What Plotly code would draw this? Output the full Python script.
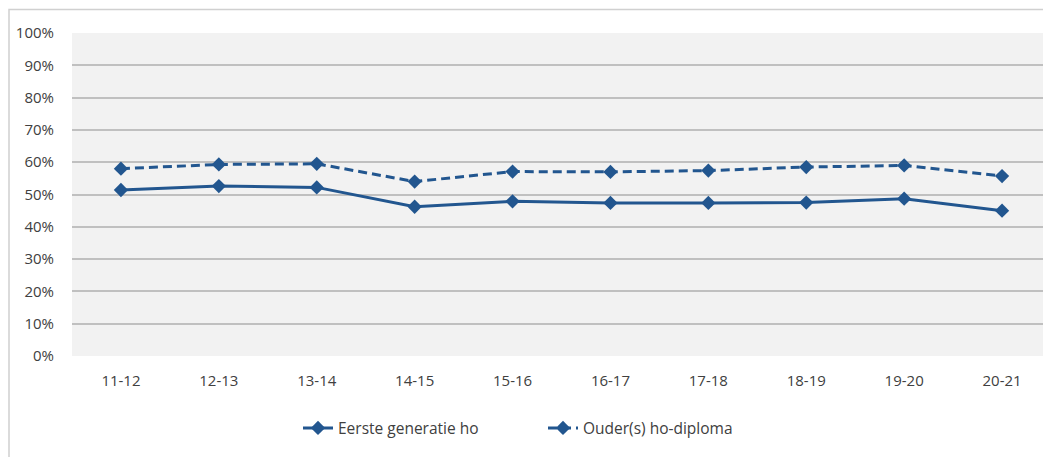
import plotly.graph_objects as go

categories = ["11-12", "12-13", "13-14", "14-15", "15-16", "16-17", "17-18", "18-19", "19-20", "20-21"]
eerste_generatie = [0.514, 0.526, 0.522, 0.462, 0.479, 0.474, 0.474, 0.475, 0.487, 0.450]
ouders_ho = [0.580, 0.593, 0.595, 0.540, 0.571, 0.570, 0.574, 0.585, 0.590, 0.557]
series_names = ["Eerste generatie ho", "Ouder(s) ho-diploma"]
y_ticks = [i / 10 for i in range(11)]

COLOR = "#22568f"
OFF = 8  # page body margin
W, H = 1051 - OFF, 457 - OFF
L, R, T = 72 - OFF, 0, 33 - OFF
BOTTOM = 356.5 - OFF
B = H - BOTTOM
pw = W - L - R
ph = H - T - B

fig = go.Figure()
fig.add_trace(go.Scatter(
    x=categories, y=eerste_generatie, name=series_names[0], mode="lines+markers",
    line=dict(color=COLOR, width=3),
    marker=dict(symbol="diamond", size=11, color=COLOR),
))
fig.add_trace(go.Scatter(
    x=categories, y=ouders_ho, name=series_names[1], mode="lines+markers",
    line=dict(color=COLOR, width=3, dash="9px,5px"),
    marker=dict(symbol="diamond", size=11, color=COLOR),
))

font_family = "Open Sans, DejaVu Sans, sans-serif"
fig.update_layout(
    width=W, height=H,
    margin=dict(l=L, r=R, t=T, b=B, pad=0, autoexpand=False),
    paper_bgcolor="white",
    plot_bgcolor="#f2f2f2",
    font=dict(family=font_family, size=15, color="#404040"),
    showlegend=True,
    legend=dict(
        orientation="h", x=(298 - OFF - L) / pw, xanchor="left",
        y=(BOTTOM - (429 - OFF)) / ph, yanchor="middle",
        font=dict(size=15.5, color="#404040"),
        entrywidth=200, entrywidthmode="pixels",
        bgcolor="rgba(0,0,0,0)",
    ),
    xaxis=dict(
        type="category", range=[-0.5, len(categories) - 0.5],
        showgrid=False, zeroline=False, showline=False, automargin=False,
        ticks="outside", ticklen=11, tickcolor="rgba(0,0,0,0)",
        tickfont=dict(size=15, color="#404040"),
    ),
    yaxis=dict(
        range=[0, 1], tickvals=y_ticks, tickformat=".0%",
        showgrid=True, gridcolor="#c0c0c0", gridwidth=1.5,
        zeroline=False, showline=False, automargin=False,
        ticks="outside", ticklen=14, tickcolor="rgba(0,0,0,0)",
        tickfont=dict(size=15, color="#404040"),
    ),
    shapes=[dict(
        type="rect", xref="paper", yref="paper",
        x0=(1 - L) / pw, x1=(W + 5 - L) / pw,
        y0=(BOTTOM - (H + 5)) / ph, y1=(BOTTOM - 1.5) / ph,
        line=dict(color="#d0d0d0", width=1.5), fillcolor="rgba(0,0,0,0)",
        layer="below",
    )],
)

fig.write_html("out.html")
